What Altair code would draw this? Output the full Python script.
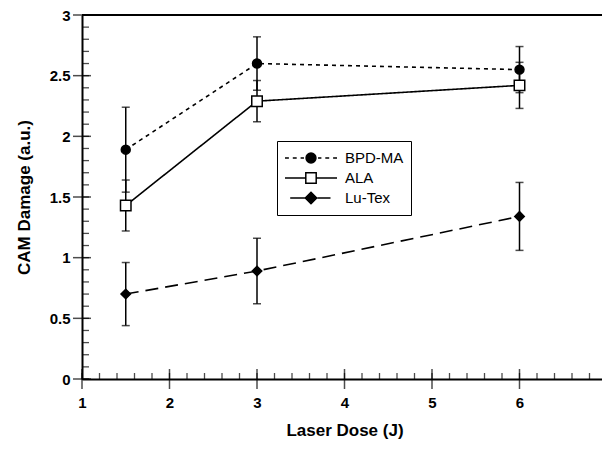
import altair as alt
import pandas as pd

# ---- data ----
series = ["BPD-MA", "ALA", "Lu-Tex"]
doses = [1.5, 3, 6]
bpd_vals = [1.89, 2.60, 2.55]
bpd_err = [0.35, 0.22, 0.19]
ala_vals = [1.43, 2.29, 2.42]
ala_err = [0.21, 0.17, 0.19]
lutex_vals = [0.70, 0.89, 1.34]
lutex_err = [0.26, 0.27, 0.28]

x_domain = [1, 7]
y_domain = [0, 3]
x_major = [1, 2, 3, 4, 5, 6, 7]
x_minor = [round(1 + 0.2 * i, 1) for i in range(31)]
y_major = [0, 0.5, 1, 1.5, 2, 2.5, 3]
y_minor = [round(0.1 * i, 1) for i in range(31)]

rows = []
for name, vals, errs in [("BPD-MA", bpd_vals, bpd_err), ("ALA", ala_vals, ala_err), ("Lu-Tex", lutex_vals, lutex_err)]:
    for d, v, e in zip(doses, vals, errs):
        rows.append({"series": name, "dose": d, "damage": v, "lo": v - e, "hi": v + e})
df = pd.DataFrame(rows)

FONT = "Liberation Sans"
W, H = 520, 364

xs = alt.Scale(domain=x_domain, range=[0, 525], nice=False, zero=False)
ys = alt.Scale(domain=y_domain, nice=False, zero=False)
x_axis = alt.Axis(values=x_major, title="Laser Dose (J)", ticks=False, grid=False,
                  domainColor="black", domainWidth=2, labelFont=FONT, labelFontSize=15,
                  labelFontWeight="bold", labelColor="black", labelPadding=16,
                  titleFont=FONT, titleFontSize=17, titleFontWeight="bold", titleColor="black",
                  titlePadding=12, format="~g", labelFlush=False, labelOverlap=False)
y_axis = alt.Axis(values=y_major, title="CAM Damage (a.u.)", ticks=False, grid=False,
                  domainColor="black", domainWidth=2, labelFont=FONT, labelFontSize=15,
                  labelFontWeight="bold", labelColor="black", labelPadding=12,
                  titleFont=FONT, titleFontSize=17, titleFontWeight="bold", titleColor="black",
                  titlePadding=16, format="~g", labelFlush=False, labelOverlap=False)


def X(f):
    return alt.X(f, type="quantitative", scale=xs, axis=x_axis)


def Y(f):
    return alt.Y(f, type="quantitative", scale=ys, axis=y_axis)


base = alt.Chart(df)

styles = {
    "BPD-MA": dict(dash=[4, 4], shape="circle", fill="black", size=80),
    "ALA": dict(dash=[1, 0], shape="square", fill="white", size=110),
    "Lu-Tex": dict(dash=[13, 7], shape="diamond", fill="black", size=90),
}

layers = []
# error bars
layers.append(base.mark_rule(color="black", strokeWidth=1.5).encode(x=X("dose"), y=Y("lo"), y2="hi"))
layers.append(base.mark_tick(color="black", thickness=1.5, size=8, orient="horizontal").encode(x=X("dose"), y=Y("lo")))
layers.append(base.mark_tick(color="black", thickness=1.5, size=8, orient="horizontal").encode(x=X("dose"), y=Y("hi")))
# lines
for s in series:
    st = styles[s]
    layers.append(base.transform_filter(alt.datum.series == s)
                  .mark_line(color="black", strokeWidth=1.6, strokeDash=st["dash"])
                  .encode(x=X("dose"), y=Y("damage")))
# points
for s in series:
    st = styles[s]
    layers.append(base.transform_filter(alt.datum.series == s)
                  .mark_point(shape=st["shape"], filled=True, fill=st["fill"], stroke="black",
                              strokeWidth=1.5, size=st["size"], opacity=1)
                  .encode(x=X("dose"), y=Y("damage")))

# axis ticks (crossing major, inward minor)
yt_major = pd.DataFrame({"tx": x_domain[0], "ty": y_major})
yt_minor = pd.DataFrame({"tx": x_domain[0], "ty": y_minor})
xt_major = pd.DataFrame({"tx": x_major, "ty": y_domain[0]})
xt_minor = pd.DataFrame({"tx": x_minor, "ty": y_domain[0]})
layers.append(alt.Chart(yt_major).mark_tick(color="black", thickness=1.5, size=18, orient="horizontal")
              .encode(x=X("tx"), y=Y("ty")))
layers.append(alt.Chart(yt_minor).mark_tick(color="black", thickness=1.3, size=7, orient="horizontal", xOffset=3.5)
              .encode(x=X("tx"), y=Y("ty")))
layers.append(alt.Chart(xt_major).mark_tick(color="black", thickness=1.5, size=20, orient="vertical")
              .encode(x=X("tx"), y=Y("ty")))
layers.append(alt.Chart(xt_minor).mark_tick(color="black", thickness=1.3, size=6, orient="vertical", yOffset=-3)
              .encode(x=X("tx"), y=Y("ty")))

# top frame line
layers.append(alt.Chart(df).mark_rule(color="black", strokeWidth=2)
              .encode(x=alt.value(0), x2=alt.value(530), y=alt.value(0)))

# legend (custom symbols: line sample + marker)
paths = [
    "M-1,0H-0.85M-0.7,0H-0.55M-0.4,0H-0.27M0.27,0H0.4M0.55,0H0.7M0.85,0H1"
    "M-0.19,0A0.19,0.19 0 1,0 0.19,0A0.19,0.19 0 1,0 -0.19,0Z",
    "M-1,0H-0.2M0.2,0H1M-0.2,-0.2H0.2V0.2H-0.2Z",
    "M-0.8,0H-0.2M0.25,0H0.75M-0.22,0L0,-0.22L0.22,0L0,0.22Z",
]
legend = alt.Legend(orient="none", legendX=195, legendY=126, title=None,
                    strokeColor="black", fillColor="white", padding=7,
                    symbolSize=2704, symbolStrokeColor="black", symbolStrokeWidth=1.5,
                    symbolOpacity=1, labelFont=FONT, labelFontSize=15, labelColor="black",
                    clipHeight=20, rowPadding=0, labelOffset=7)
layers.append(base.mark_point(opacity=0, size=2704, strokeWidth=1.5, filled=True)
              .encode(x=X("dose"), y=Y("damage"),
                      shape=alt.Shape("series:N", sort=series, scale=alt.Scale(domain=series, range=paths), legend=legend),
                      fill=alt.Fill("series:N", sort=series, scale=alt.Scale(domain=series, range=["black", "white", "black"]), legend=legend),
                      stroke=alt.Stroke("series:N", sort=series, scale=alt.Scale(domain=series, range=["black", "black", "black"]), legend=legend)))

chart = alt.layer(*layers).properties(
    width=W, height=H,
    padding={"left": 74, "top": 7, "right": 0, "bottom": 60},
    autosize=alt.AutoSizeParams(type="none"),
).configure_view(stroke=None).configure(background="white")

chart.save("out.html", embed_options={"renderer": "svg", "actions": False})
